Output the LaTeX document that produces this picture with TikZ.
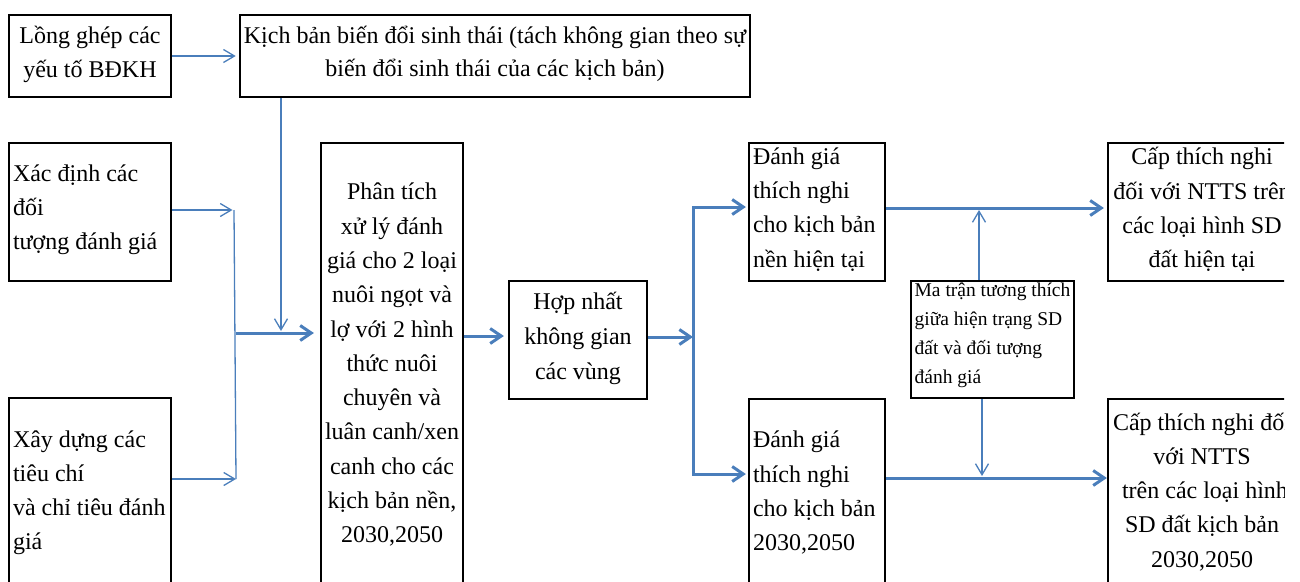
\documentclass[tikz,border=0pt]{standalone}
\usepackage{fontspec}
\setmainfont{Liberation Serif}
\usetikzlibrary{arrows.meta,calc}
\definecolor{flow}{HTML}{4A7EBB}
% struts that fix the first baseline and last depth of every text block
\newcommand\bigstrut{\rule[-9pt]{0pt}{25.5pt}}
\newcommand\smallstrut{\rule[-12.5pt]{0pt}{16.5pt}}
\tikzset{
  box/.style={draw=black, line width=2.3pt, inner xsep=4pt, inner ysep=0pt,
    font=\fontsize{24}{34.3}\selectfont},
  leftbox/.style={box, align=flush left},
  midbox/.style={box, align=center},
  notebox/.style={draw=black, line width=2.3pt, inner xsep=2.5pt, inner ysep=0pt,
    align=left, font=\fontsize{19.5}{29}\selectfont},
  thinline/.style={draw=flow, line width=1.3pt},
  thickline/.style={draw=flow, line width=3pt, line join=miter},
  thinarr/.style={thinline, -{Straight Barb[length=11pt,width=13pt]}},
  thickarr/.style={thickline, -{Straight Barb[length=11pt,width=15pt]}},
}
\begin{document}
\begin{tikzpicture}[x=1pt,y=-1pt]
\useasboundingbox (0,0) rectangle (1300,581);
\begin{scope}
\clip (0,0) rectangle (1284,581);

% ---- boxes ----
\node[midbox, minimum width=162pt, minimum height=82pt] (A) at (90,56)
  {\bigstrut Lồng ghép các\\ yếu tố BĐKH\bigstrut};
\node[midbox, minimum width=510pt, minimum height=82pt,
  font=\fontsize{24}{33}\selectfont] (B) at (495,56)
  {\bigstrut Kịch bản biến đổi sinh thái (tách không gian theo sự\\
   biến đổi sinh thái của các kịch bản)\bigstrut};
\node[leftbox, text width=154pt, minimum width=162pt, minimum height=138pt,
  font=\fontsize{24}{34}\selectfont] (C) at (90,212)
  {\bigstrut Xác định các\\ đối\\ \mbox{tượng đánh giá}\bigstrut};
\node[leftbox, text width=154pt, minimum width=162pt, minimum height=194pt,
  font=\fontsize{24}{34}\selectfont] (D) at (90,495)
  {\bigstrut Xây dựng các\\ tiêu chí\\ \mbox{và chỉ tiêu đánh}\\ giá\bigstrut};
\node[midbox, minimum width=140pt, minimum height=449pt] (E) at (392,367.5)
  {\bigstrut Phân tích\\ xử lý đánh\\ giá cho 2 loại\\ nuôi ngọt và\\
   lợ với 2 hình\\ thức nuôi\\ chuyên và\\ luân canh/xen\\ canh cho các\\
   kịch bản nền,\\ 2030,2050\bigstrut};
\node[midbox, minimum width=138pt, minimum height=118pt,
  font=\fontsize{24}{35}\selectfont] (F) at (578,340)
  {\bigstrut Hợp nhất\\ không gian\\ các vùng\bigstrut};
\node[leftbox, text width=128pt, minimum width=136pt, minimum height=138pt] (G) at (817,212)
  {\bigstrut Đánh giá\\ thích nghi\\ cho kịch bản\\ nền hiện tại\bigstrut};
\node[leftbox, text width=128pt, minimum width=136pt, minimum height=193pt] (H) at (817,495.5)
  {\bigstrut Đánh giá\\ thích nghi\\ cho kịch bản\\ 2030,2050\bigstrut};
\node[notebox, minimum width=163pt, minimum height=117pt] (K) at (992.5,339.5)
  {\smallstrut Ma trận tương thích\\ giữa hiện trạng SD\\ đất và đối tượng\\ đánh giá\smallstrut};
\node[midbox, minimum width=188pt, minimum height=138pt] (I) at (1202,212)
  {\bigstrut Cấp thích nghi\\ đối với NTTS trên\\ các loại hình SD\\ đất hiện tại\bigstrut};
\node[midbox, minimum width=188pt, minimum height=191pt] (J) at (1202,494.5)
  {\bigstrut Cấp thích nghi đối\\ với NTTS\\ \ trên các loại hình\\ SD đất kịch bản\\ 2030,2050\bigstrut};

% ---- junction points ----
\coordinate (jtop) at (234,210);
\coordinate (jbot) at (236,479);
\coordinate (jmid) at (236,333);
\coordinate (jb) at (281,331);
\coordinate (ef) at (0,336);
\coordinate (fb) at (693,337);
\coordinate (gt) at (693,207);
\coordinate (hb) at (693,474);
\coordinate (gi) at (0,208);
\coordinate (hj) at (0,478);
\coordinate (ku) at (979,210);
\coordinate (kd) at (982,476);

% ---- connectors ----
\draw[thinarr, shorten >=3pt] (A.east) -- (B.west);
\draw[thinarr, shorten >=1.5pt] (C.east |- jtop) -- (jtop);
\draw[thinarr, shorten >=0pt] (D.east |- jbot) -- (jbot);
\draw[thinline] (jtop) -- (jbot);
\draw[thinarr] (B.south -| jb) -- (jb);
\draw[thickarr, shorten >=6pt] (jmid) -- (E.west |- jmid);
\draw[thickarr, shorten >=4pt] (E.east |- ef) -- (F.west |- ef);
\draw[thickarr] (F.east |- fb) -- (fb);
\draw[thickarr, shorten >=2pt] (fb) -- (gt) -- (G.west |- gt);
\draw[thickarr, shorten >=2pt] (fb) -- (hb) -- (H.west |- hb);
\draw[thickarr, shorten >=3pt] (G.east |- gi) -- (I.west |- gi);
\draw[thickarr, shorten >=0pt] (H.east |- hj) -- (J.west |- hj);
\draw[thinarr] (K.north -| ku) -- (ku);
\draw[thinarr] (K.south -| kd) -- (kd);
\end{scope}
\end{tikzpicture}
\end{document}
